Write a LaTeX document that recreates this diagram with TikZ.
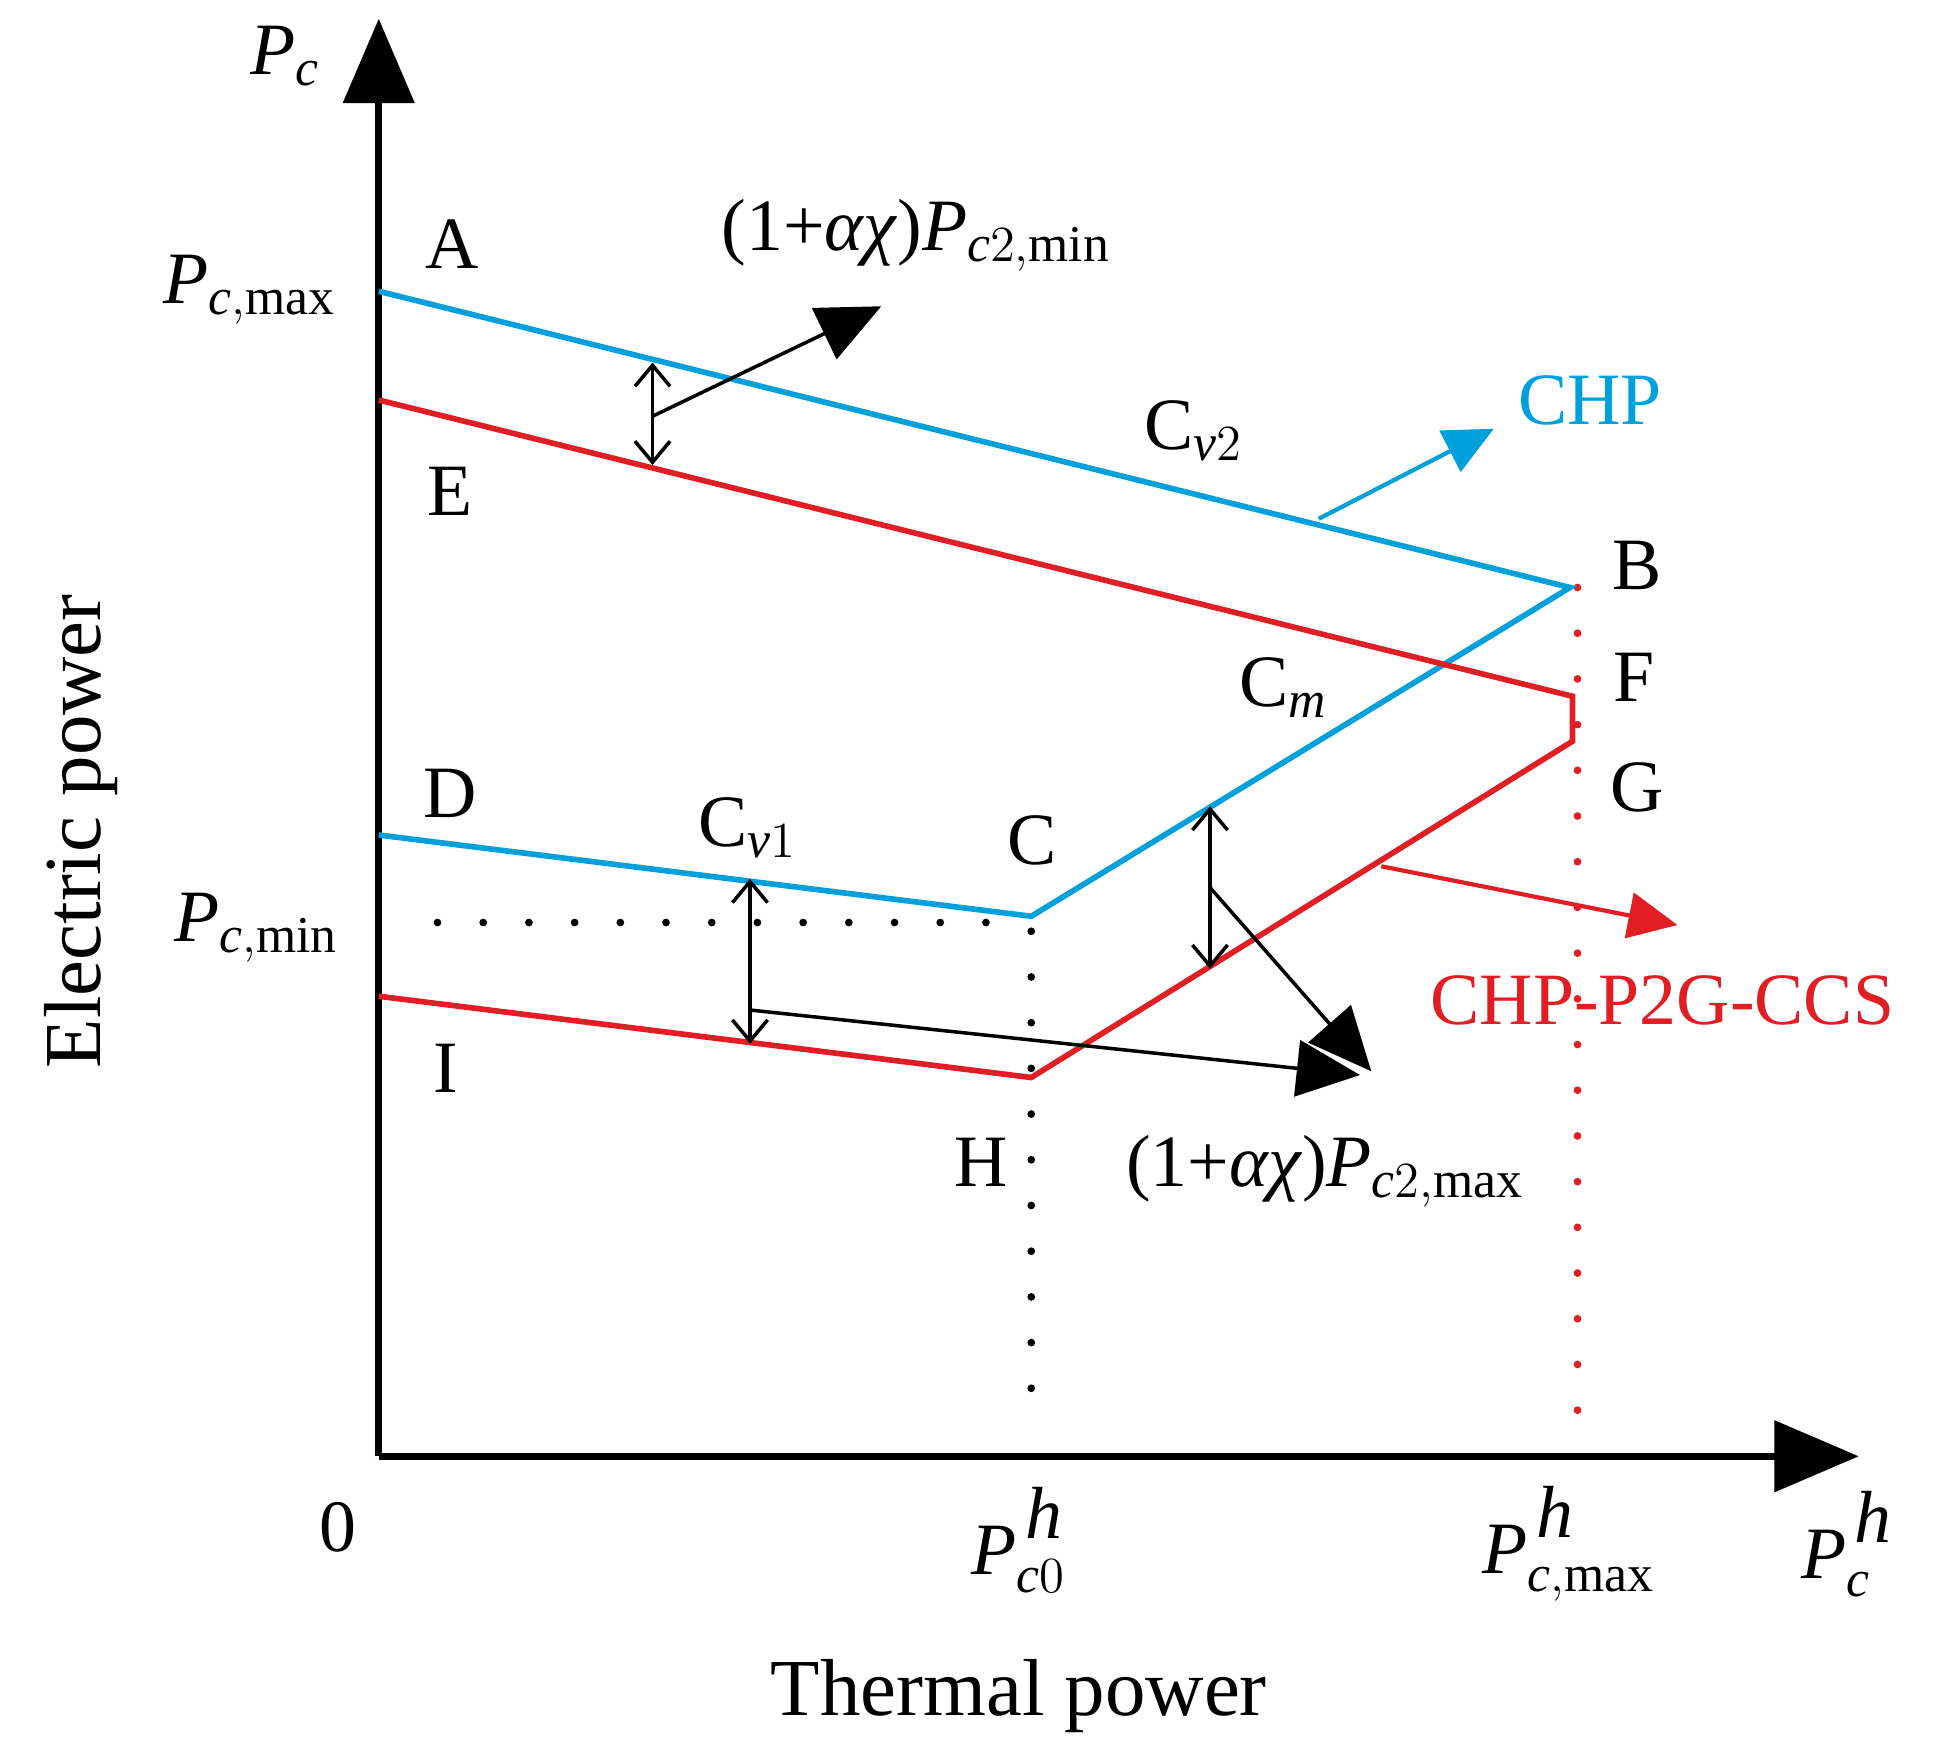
\documentclass[tikz,border=0pt]{standalone}
\usepackage{amsmath}
\usepackage{fontspec}
\setmainfont{Liberation Serif}
\usetikzlibrary{arrows.meta}
\definecolor{chp}{RGB}{0,160,220}
\definecolor{red2}{RGB}{225,30,35}
\tikzset{
 lbl/.style={font=\fontsize{21}{24}\selectfont},
 big/.style={font=\fontsize{23}{26}\selectfont},
 blue line/.style={chp,line width=1.6pt},
 red line/.style={red2,line width=1.6pt},
 dbl/.style={{Straight Barb[length=6pt,width=10pt]}-{Straight Barb[length=6pt,width=10pt]},line width=1pt},
 bigarr/.style={-{Triangle[length=18pt,width=16pt]},line width=1pt},
 dots/.style={line width=2.2pt,dash pattern=on 0pt off 13pt,line cap=round}
}
\newcommand{\Pm}[1]{$\textit{P}_{#1}$}
\newcommand{\Ph}[1]{$\textit{P}^{\,\raisebox{2pt}{\textit{h}}}_{#1}$}
\begin{document}
\begin{tikzpicture}[x=0.0125cm,y=-0.0125cm]
\useasboundingbox (0,0) rectangle (1564,1410);
% axes
\coordinate (O) at (303,1165);
\coordinate (Ytop) at (303,15);
\coordinate (Xend) at (1487,1165);
\draw[line width=2pt,-{Triangle[length=24pt,width=20pt]}] (O) -- (Ytop);
\draw[line width=2pt,-{Triangle[length=24pt,width=20pt]}] (O) -- (Xend);
% points
\coordinate (A) at (303,233); \coordinate (B) at (1256,470);
\coordinate (C) at (825,733); \coordinate (D) at (303,668);
\coordinate (E) at (303,320); \coordinate (F) at (1258,557);
\coordinate (G) at (1258,593); \coordinate (H) at (825,862);
\coordinate (I) at (303,797);
% dotted
\coordinate (Rt) at (1262,470); \coordinate (Rb) at (1262,1145);
\draw[dots,red2] (Rt) -- (Rb);
\coordinate (Ct) at (825,745); \coordinate (Cb) at (825,1125);
\draw[dots] (Ct) -- (Cb);
\coordinate (Hl) at (350,738); \coordinate (Hr) at (815,738);
\draw[dots] (Hl) -- (Hr);
% curves
\draw[blue line] (A) -- (B) -- (C) -- (D);
\draw[red line] (E) -- (F) -- (G) -- (H) -- (I);
% dimension arrows
\coordinate (d1a) at (522,290); \coordinate (d1b) at (522,372);
\draw[dbl] (d1a) -- (d1b);
\coordinate (d1m) at (522,333); \coordinate (d1e) at (705,245);
\draw[bigarr] (d1m) -- (d1e);
\coordinate (d2a) at (600,703); \coordinate (d2b) at (600,835);
\draw[dbl] (d2a) -- (d2b);
\coordinate (d2m) at (600,808); \coordinate (d2e) at (1088,860);
\draw[bigarr] (d2m) -- (d2e);
\coordinate (d3a) at (968,645); \coordinate (d3b) at (968,775);
\draw[dbl] (d3a) -- (d3b);
\coordinate (d3m) at (968,710); \coordinate (d3e) at (1097,857);
\draw[bigarr] (d3m) -- (d3e);
\coordinate (b1) at (1055,415); \coordinate (b2) at (1195,343);
\draw[chp,line width=1.2pt,-{Triangle[length=14pt,width=13pt]}] (b1) -- (b2);
\coordinate (r1) at (1105,693); \coordinate (r2) at (1342,740);
\draw[red2,line width=1.2pt,-{Triangle[length=14pt,width=13pt]}] (r1) -- (r2);
% labels
\node[lbl] (lA) at (362,195) {A};
\node[lbl] (lE) at (360,393) {E};
\node[lbl] (lD) at (360,635) {D};
\node[lbl] (lI) at (357,855) {I};
\node[lbl] (lC) at (826,672) {C};
\node[lbl] (lH) at (785,930) {H};
\node[lbl] (lB) at (1310,452) {B};
\node[lbl] (lF) at (1307,542) {F};
\node[lbl] (lG) at (1310,630) {G};
\node[lbl] (lcv2) at (955,345) {C$_{\textit{v}2}$};
\node[lbl] (lcm) at (1027,550) {C$_{\textit{m}}$};
\node[lbl] (lcv1) at (598,662) {C$_{\textit{v}1}$};
\node[lbl,chp] (lchp) at (1272,320) {CHP};
\node[lbl,red2] (lccs) at (1330,800) {CHP-P2G-CCS};
\node[lbl] (lmin) at (733,188) {(1+\textit{αχ})\Pm{\textit{c}2,\text{min}}};
\node[lbl] (lmax) at (1060,937) {(1+\textit{αχ})\Pm{\textit{c}2,\text{max}}};
\node[lbl] (lpc) at (228,45) {\Pm{\textit{c}}};
\node[lbl] (lpcmax) at (200,232) {\Pm{\textit{c},\text{max}}};
\node[lbl] (lpcmin) at (205,742) {\Pm{\textit{c},\text{min}}};
\node[lbl] (l0) at (270,1222) {0};
\node[lbl] (lpc0) at (815,1232) {\Ph{\textit{c}0}};
\node[lbl] (lpcmh) at (1255,1235) {\Ph{\textit{c},\text{max}}};
\node[lbl] (lpch) at (1478,1235) {\Ph{\textit{c}}};
\node[big,rotate=90] (ly) at (65,665) {Electric power};
\node[big] (lx) at (815,1357) {Thermal power};
\end{tikzpicture}
\end{document}
